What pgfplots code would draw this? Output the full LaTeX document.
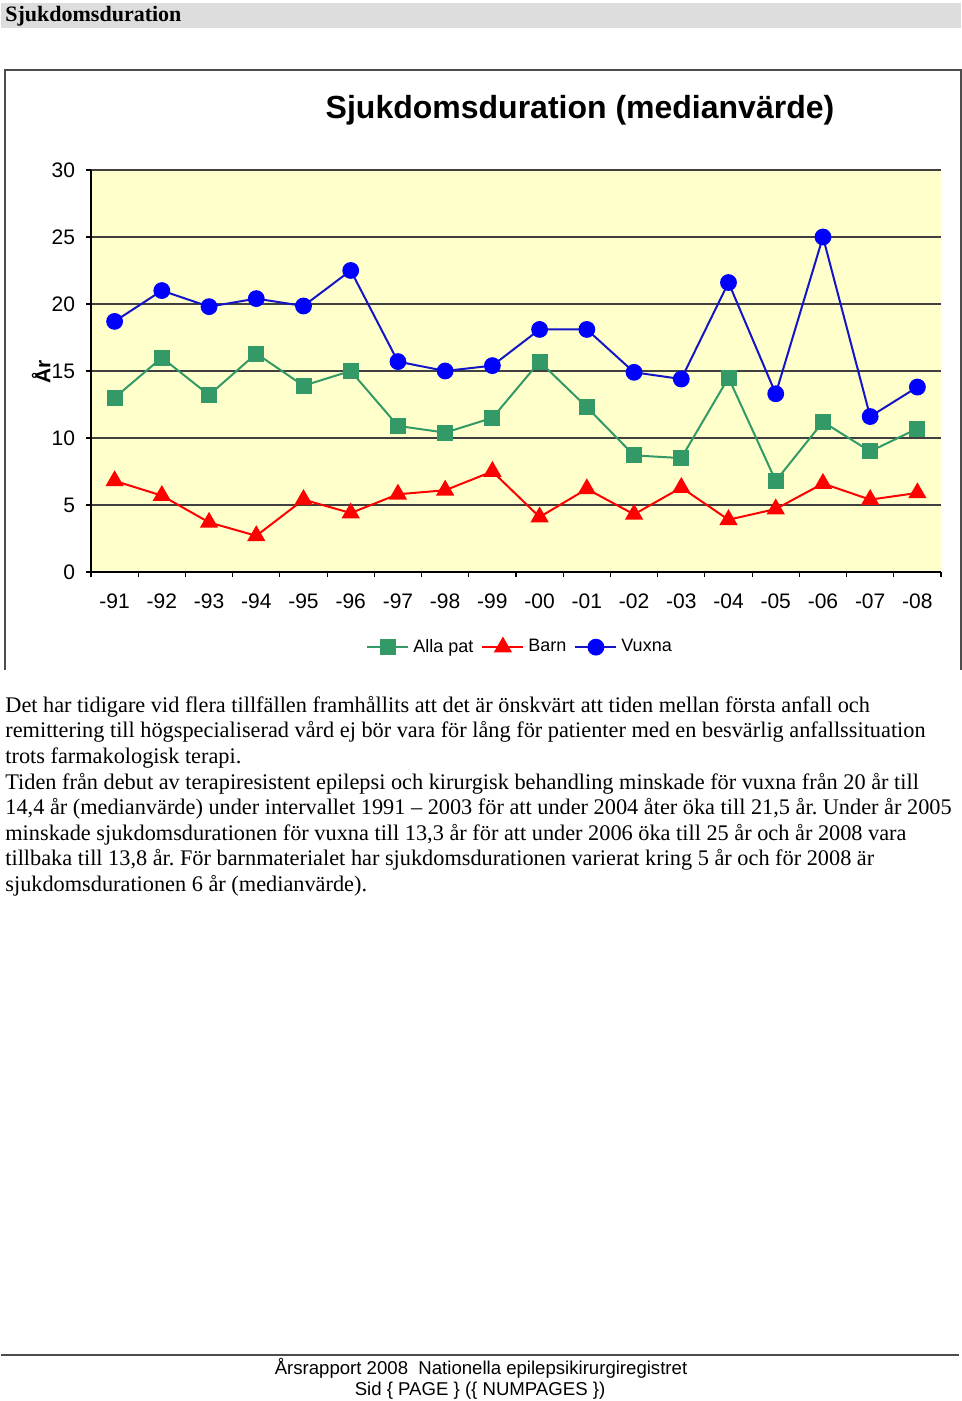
\documentclass[border=0pt]{standalone}
\usepackage{fontspec}
\setmainfont{Liberation Serif}
\newfontfamily\arial{Liberation Sans}
\usepackage{pgfplots}
\pgfplotsset{compat=1.18}
\frenchspacing

\definecolor{plotbg}{HTML}{FFFFCC}
\definecolor{allagreen}{HTML}{339966}
\definecolor{barnred}{HTML}{FF0000}
\definecolor{vuxblue}{HTML}{0000FF}
\definecolor{vuxline}{HTML}{1515C8}
\definecolor{headgray}{HTML}{DDDDDD}

\begin{document}
\begin{tikzpicture}[x=0.5pt,y=0.5pt]
% page 960 x 1401 px, y counted from the bottom
\fill[white] (0,0) rectangle (960,1401);
\fill[headgray] (0,1373) rectangle (960,1398);
\node[anchor=base west,inner sep=0pt,font=\bfseries\fontsize{11}{13}\selectfont] at (4,1379) {Sjukdomsduration};

% chart frame
\draw[black!70,line width=0.8pt] (4,731) -- (4,1331) -- (960,1331) -- (960,731);

\node[font=\arial\bfseries\fontsize{16}{19}\selectfont] at (579,1291) {Sjukdomsduration (medianvärde)};
\node[rotate=90,font=\arial\bfseries\fontsize{10.5}{12}\selectfont] at (40,1029) {År};

\coordinate (plotorigin) at (90,829);
\begin{axis}[
  at={(plotorigin)}, anchor=south west,
  scale only axis, width=425pt, height=201pt,
  xmin=-0.5, xmax=17.5, ymin=0, ymax=30,
  axis background/.style={fill=plotbg},
  axis lines*=left,
  axis line style={black, line width=0.6pt},
  xtick={0,...,17},
  xticklabels={-91,-92,-93,-94,-95,-96,-97,-98,-99,-00,-01,-02,-03,-04,-05,-06,-07,-08},
  major x tick style={draw=none},
  minor xtick={-0.5,0.5,...,17.5},
  minor tick length=2.5pt,
  ytick={0,5,...,30},
  major tick length=2.5pt,
  tick align=outside,
  tick style={black, line width=0.6pt},
  ymajorgrids,
  grid style={black!75, line width=0.6pt},
  ticklabel style={font=\arial\fontsize{10.5}{12}\selectfont},
  /pgf/number format/assume math mode=true,
  xticklabel style={yshift=-5pt},
  yticklabel style={xshift=-2pt},
  legend style={at={(0.506,-0.187)}, anchor=center, draw=none, fill=none,
    legend columns=3, font=\arial\fontsize{9}{10}\selectfont,
    /tikz/every even column/.append style={column sep=2pt}},
  legend image code/.code={
    \draw[#1, mark repeat=2, mark phase=2] plot coordinates {(0cm,0cm) (0.36cm,0cm) (0.72cm,0cm)};},
  legend cell align=left,
]
\addplot[allagreen, line width=1pt, mark=square*, mark size=3.5pt, mark options={solid, fill=allagreen}]
 coordinates {(0,13.0) (1,16.0) (2,13.2) (3,16.3) (4,13.9) (5,15.0) (6,10.9) (7,10.4) (8,11.5)
 (9,15.7) (10,12.3) (11,8.7) (12,8.5) (13,14.5) (14,6.8) (15,11.2) (16,9.0) (17,10.7)};
\addlegendentry{Alla pat}
\addplot[barnred, line width=1pt, mark=triangle*, mark size=4.3pt, mark options={solid, fill=barnred}]
 coordinates {(0,6.8) (1,5.7) (2,3.7) (3,2.7) (4,5.4) (5,4.4) (6,5.8) (7,6.1) (8,7.5)
 (9,4.1) (10,6.2) (11,4.3) (12,6.3) (13,3.9) (14,4.7) (15,6.6) (16,5.4) (17,5.9)};
\addlegendentry{Barn}
\addplot[vuxline, line width=1pt, mark=*, mark size=3.7pt, mark options={solid, draw=vuxblue, fill=vuxblue}]
 coordinates {(0,18.7) (1,21.0) (2,19.8) (3,20.4) (4,19.85) (5,22.5) (6,15.7) (7,15.0) (8,15.4)
 (9,18.1) (10,18.1) (11,14.9) (12,14.4) (13,21.6) (14,13.3) (15,25.0) (16,11.6) (17,13.8)};
\addlegendentry{Vuxna}
\end{axis}

% body text
\begin{scope}[every node/.style={anchor=base west, inner sep=0pt, font=\fontsize{11.15}{13}\selectfont}]
\node at (4,688.3) {Det har tidigare vid flera tillfällen framhållits att det är önskvärt att tiden mellan första anfall och};
\node at (4,663) {remittering till högspecialiserad vård ej bör vara för lång för patienter med en besvärlig anfallssituation};
\node at (4,637) {trots farmakologisk terapi.};
\node at (4,611.5) {Tiden från debut av terapiresistent epilepsi och kirurgisk behandling minskade för vuxna från 20 år till};
\node at (4,586) {14,4 år (medianvärde) under intervallet 1991 -- 2003 för att under 2004 åter öka till 21,5 år. Under år 2005};
\node at (4,560.3) {minskade sjukdomsdurationen för vuxna till 13,3 år för att under 2006 öka till 25 år och år 2008 vara};
\node at (4,535) {tillbaka till 13,8 år. För barnmaterialet har sjukdomsdurationen varierat kring 5 år och för 2008 är};
\node at (4,509.3) {sjukdomsdurationen 6 år (medianvärde).};
\end{scope}

% footer
\draw[black!70, line width=1pt] (0,46) -- (958,46);
\node[anchor=base, inner sep=0pt, font=\arial\fontsize{9.3}{11}\selectfont] at (480,26) {Årsrapport 2008\ \ Nationella epilepsikirurgiregistret};
\node[anchor=base, inner sep=0pt, font=\arial\fontsize{9.3}{11}\selectfont] at (479,5) {Sid \{ PAGE \} (\{ NUMPAGES \})};
\end{tikzpicture}
\end{document}
